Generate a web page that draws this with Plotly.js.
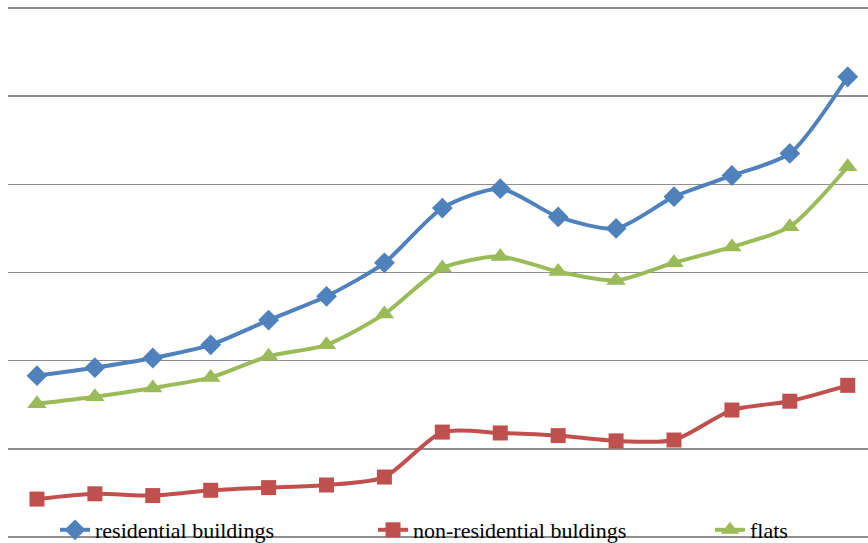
<!DOCTYPE html>
<html>
<head>
<meta charset="utf-8">
<script src="https://cdn.plot.ly/plotly-3.0.1.min.js"></script>
<style>html,body{margin:0;padding:0;background:#fff;}#chart{width:868px;height:543px;}</style>
</head>
<body>
<div id="chart"></div>
<script>
const periods = ["1","2","3","4","5","6","7","8","9","10","11","12","13","14","15"];
const residential = [1.83, 1.92, 2.03, 2.18, 2.46, 2.73, 3.11, 3.73, 3.95, 3.63, 3.50, 3.86, 4.10, 4.35, 5.22];
const nonResidential = [0.43, 0.49, 0.47, 0.53, 0.56, 0.59, 0.68, 1.19, 1.18, 1.15, 1.09, 1.10, 1.44, 1.54, 1.72];
const flats = [1.51, 1.59, 1.69, 1.81, 2.05, 2.18, 2.53, 3.05, 3.18, 3.01, 2.91, 3.11, 3.29, 3.52, 4.20];
const seriesNames = ["residential buildings", "non-residential buldings", "flats"];

const xs = periods.map((p, i) => i);
const traces = [
  {x: xs, y: residential, name: seriesNames[0], type: 'scatter', mode: 'lines+markers', legend: 'legend',
   line: {color: '#4F81BD', width: 4, shape: 'spline', smoothing: 0.7},
   marker: {symbol: 'diamond', size: 16, color: '#4F81BD'}},
  {x: xs, y: nonResidential, name: seriesNames[1], type: 'scatter', mode: 'lines+markers', legend: 'legend2',
   line: {color: '#C0504D', width: 4, shape: 'spline', smoothing: 0.7},
   marker: {symbol: 'square', size: 15, color: '#C0504D'}},
  {x: xs, y: flats, name: seriesNames[2], type: 'scatter', mode: 'lines+markers', legend: 'legend3',
   line: {color: '#9BBB59', width: 4, shape: 'spline', smoothing: 0.7},
   marker: {symbol: 'triangle-up', size: 17, color: '#9BBB59'}}
];

function leg(px) {
  return {orientation: 'h', xref: 'container', yref: 'container',
          x: px / 868, y: (543 - 530) / 543, xanchor: 'left', yanchor: 'middle',
          bgcolor: 'rgba(0,0,0,0)', borderwidth: 0,
          font: {family: 'Liberation Serif', size: 22, color: '#000'}};
}

const layout = {
  width: 868, height: 543,
  margin: {l: 8, r: 0, t: 4, b: 6, autoexpand: false},
  paper_bgcolor: '#fff', plot_bgcolor: '#fff',
  showlegend: true,
  legend: leg(55),
  legend2: leg(373),
  legend3: leg(710),
  xaxis: {range: [-0.5, 14.35], showgrid: false, zeroline: false, showticklabels: false,
          ticks: '', showline: false},
  yaxis: {range: [0, 6.045], dtick: 1, tick0: 0, showgrid: true, gridcolor: '#8f8f8f', gridwidth: 1.5,
          zeroline: true, zerolinecolor: '#8f8f8f', zerolinewidth: 1.5,
          showticklabels: false, ticks: '', showline: false},
  font: {family: 'Liberation Serif'}
};

Plotly.newPlot('chart', traces, layout, {displayModeBar: false, staticPlot: true});
</script>
</body>
</html>
